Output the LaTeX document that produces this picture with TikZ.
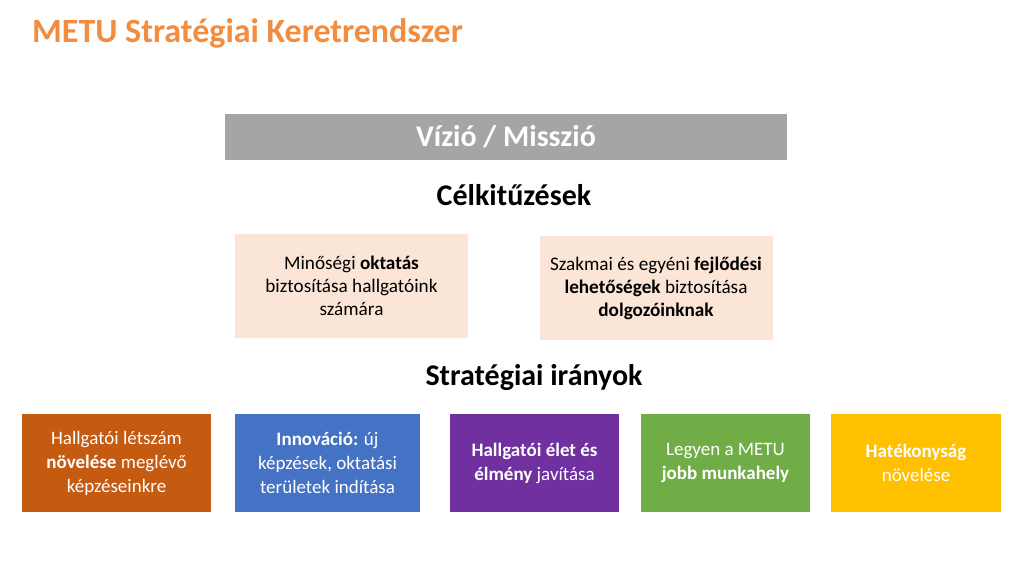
\documentclass[tikz,border=0pt]{standalone}
\usepackage{fontspec}
\setmainfont{Carlito}
\usepackage{xcolor}
\definecolor{titleorange}{HTML}{F28C3F}
\definecolor{bargray}{HTML}{A5A5A5}
\definecolor{peach}{HTML}{FBE5D6}
\definecolor{rustorange}{HTML}{C55A11}
\definecolor{ablue}{HTML}{4472C4}
\definecolor{apurple}{HTML}{7030A0}
\definecolor{agreen}{HTML}{70AD47}
\definecolor{agold}{HTML}{FFC000}

\begin{document}
\begin{tikzpicture}[x=1pt,y=-1pt,
  heading/.style={font=\bfseries\fontsize{30}{34}\selectfont,inner sep=0pt},
  goalbox/.style={fill=peach,minimum width=233pt,minimum height=104pt,inner sep=0pt,
    align=center,font=\fontsize{19.2}{23}\selectfont},
  dirbox/.style={minimum height=98pt,inner sep=0pt,text=white,
    align=center,font=\fontsize{19}{24}\selectfont}]
  \useasboundingbox[fill=white] (0,0) rectangle (1024,576);
  \pgfmathsetmacro{\ymid}{463}

  % cim
  \node[anchor=west,text=titleorange,font=\bfseries\fontsize{34}{38}\selectfont,inner sep=0pt]
    (title) at (32,33) {METU Stratégiai Keretrendszer};

  % vizio / misszio
  \node[fill=bargray,minimum width=562pt,minimum height=46pt,inner sep=0pt,
    text=white,font=\bfseries\fontsize{30}{34}\selectfont] (vision) at (506,137) {Vízió / Misszió};

  % celkituzesek
  \node[heading] (goals) at (514,195) {Célkitűzések};
  \node[goalbox] (goalA) at (351.5,286) {Minőségi \textbf{oktatás}\\biztosítása hallgatóink\\számára};
  \node[goalbox] (goalB) at (656,288) {Szakmai és egyéni \textbf{fejlődési}\\\textbf{lehetőségek} biztosítása\\\textbf{dolgozóinknak}};

  % strategiai iranyok
  \node[heading] (dirs) at (534,378) {Stratégiai irányok};
  \node[dirbox,fill=rustorange,minimum width=189pt] (dirA) at (116.5,\ymid)
    {Hallgatói létszám\\\textbf{növelése} meglévő\\képzéseinkre};
  \node[dirbox,fill=ablue,minimum width=185pt] (dirB) at (327.5,\ymid)
    {\textbf{Innováció:} új\\képzések, oktatási\\területek indítása};
  \node[dirbox,fill=apurple,minimum width=169pt] (dirC) at (534.5,\ymid)
    {\textbf{Hallgatói élet és}\\\textbf{élmény} javítása};
  \node[dirbox,fill=agreen,minimum width=169pt] (dirD) at (725.5,\ymid)
    {Legyen a METU\\\textbf{jobb munkahely}};
  \node[dirbox,fill=agold,minimum width=170pt] (dirE) at (916,\ymid)
    {\textbf{Hatékonyság}\\növelése};
\end{tikzpicture}
\end{document}
